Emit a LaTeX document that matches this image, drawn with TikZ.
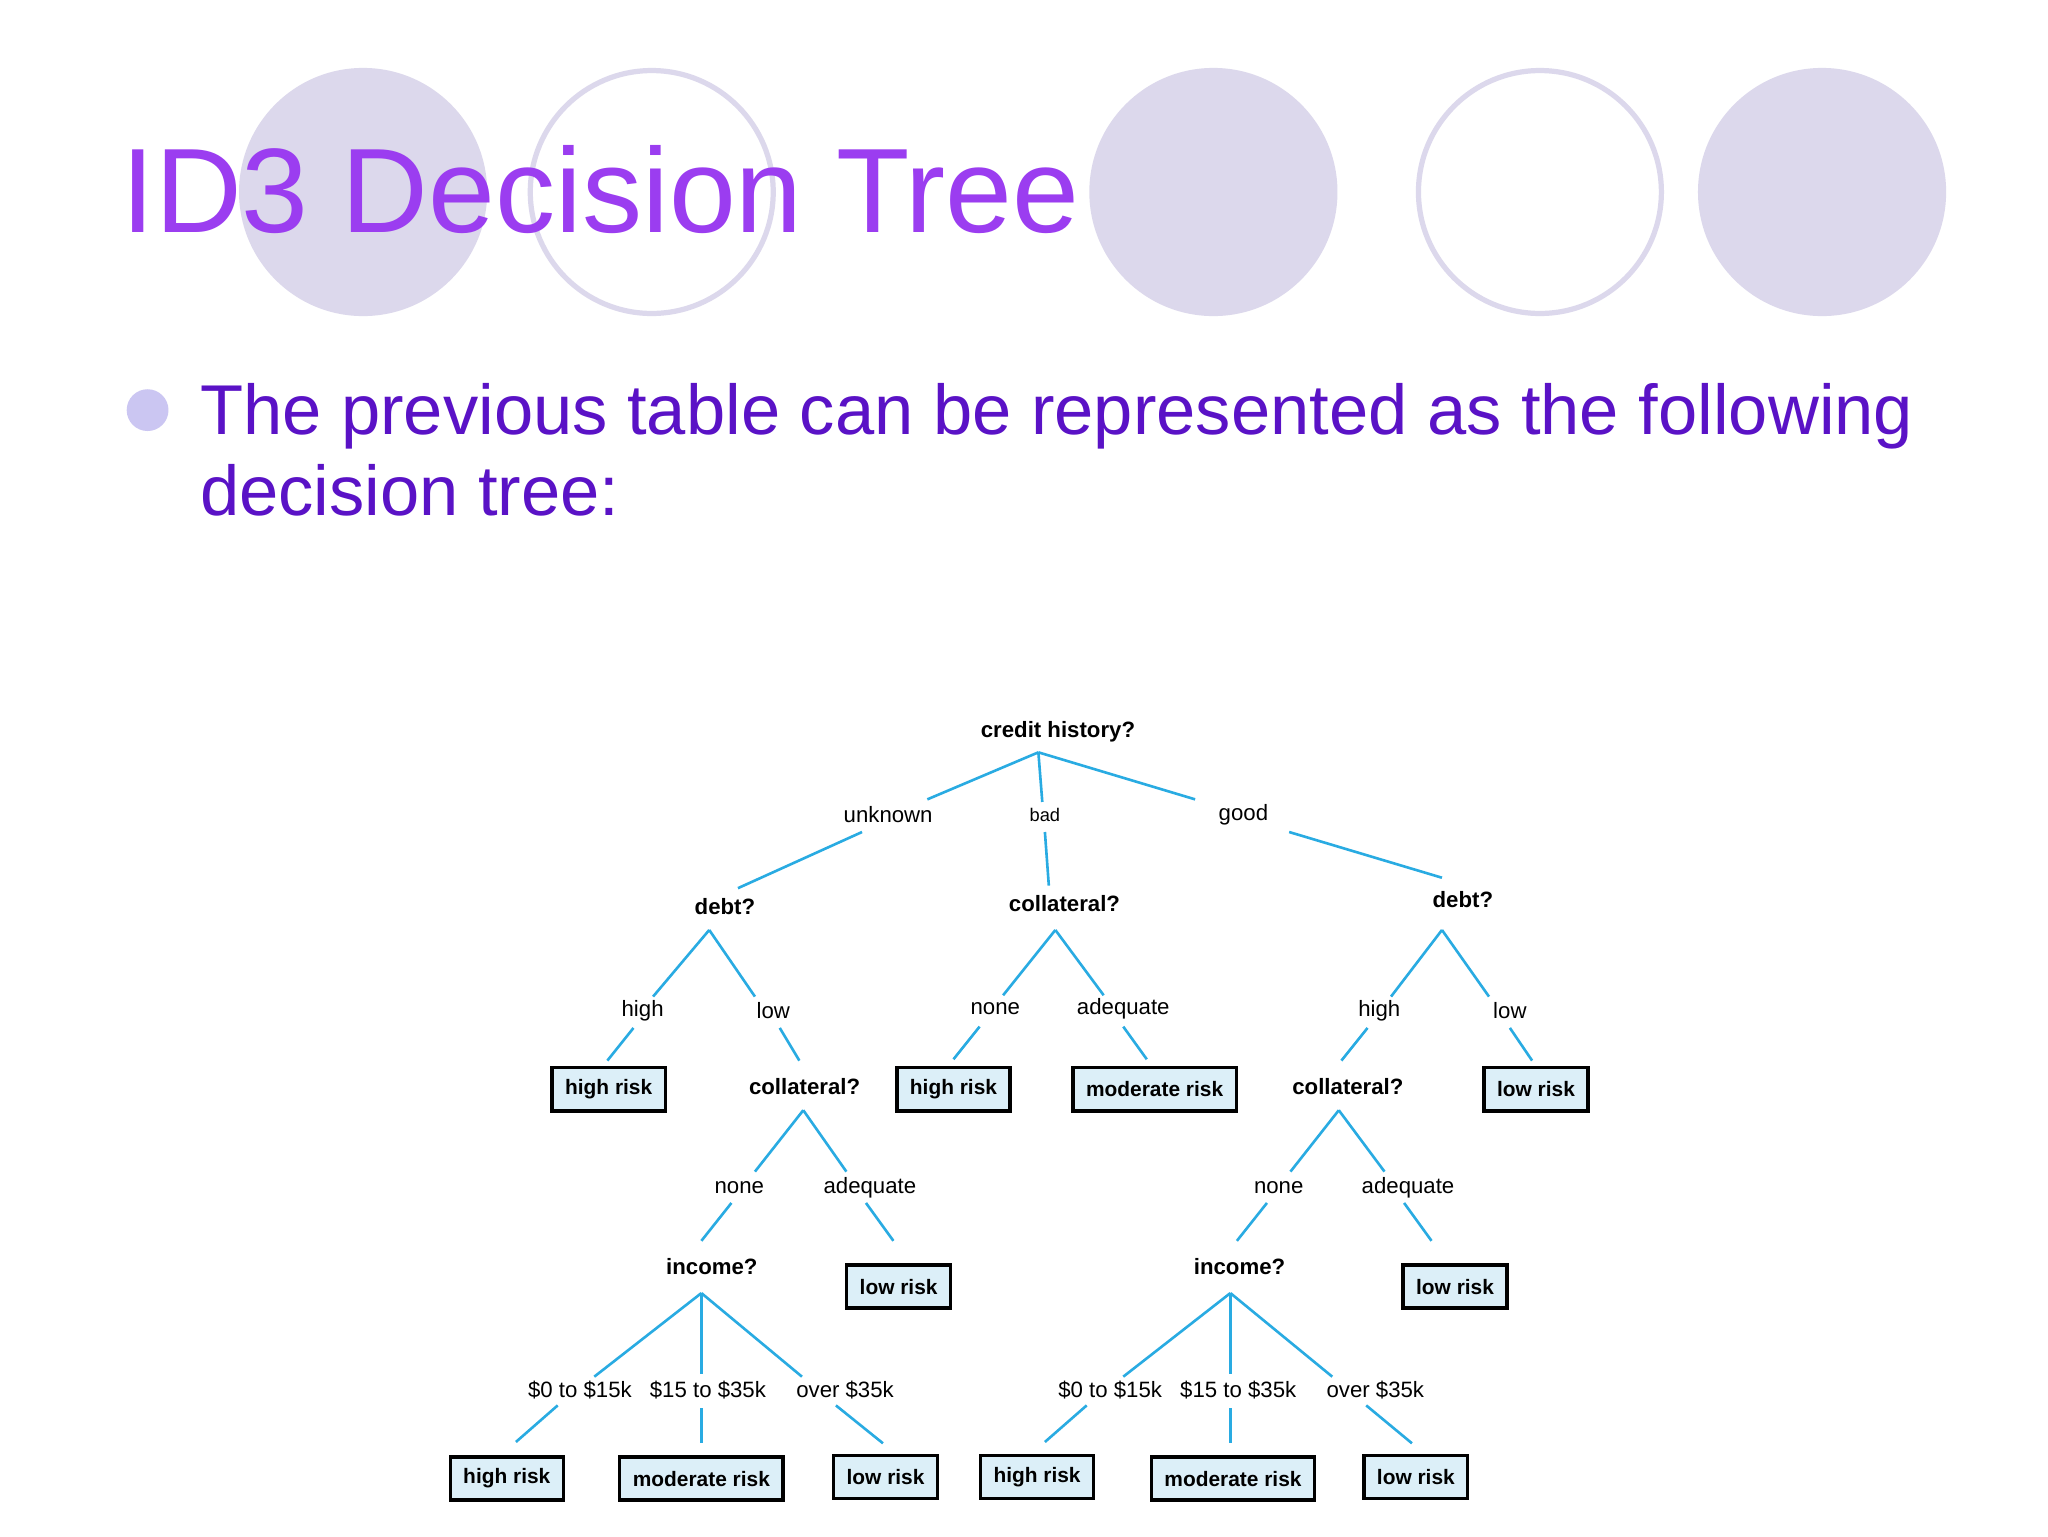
\documentclass[tikz,border=0pt]{standalone}
\usepackage{fontspec}
\setmainfont{Liberation Sans}
\definecolor{lav}{HTML}{DCD8EC}
\definecolor{ttl}{HTML}{9B3DF0}
\definecolor{txt}{HTML}{5A12C6}
\definecolor{bul}{HTML}{CBC6F2}
\definecolor{ln}{HTML}{29ABE2}
\definecolor{bx}{HTML}{DCEFF8}
\begin{document}
\begin{tikzpicture}[x=1pt,y=-1pt,
  q/.style={font=\fontsize{17}{17}\selectfont\bfseries,inner sep=1pt},
  lb/.style={font=\fontsize{17}{17}\selectfont,inner sep=1pt},
  leaf/.style={draw=black,line width=2.5pt,fill=bx,font=\fontsize{16}{16}\selectfont\bfseries,minimum height=33pt,inner xsep=10pt},
  e/.style={draw=ln,line width=2pt}]
\useasboundingbox (0,0) rectangle (1568,1176);
\fill[white] (0,0) rectangle (1568,1176);
\fill[lav] (278,147) circle (95);
\draw[lav,line width=4pt] (499,147) circle (93);
\fill[lav] (929,147) circle (95);
\draw[lav,line width=4pt] (1179,147) circle (93);
\fill[lav] (1395,147) circle (95);
\node[anchor=base west,text=ttl,font=\fontsize{92}{92}\selectfont,inner sep=0] (title) at (93,178) {ID3 Decision Tree};
\fill[bul] (113,314) circle (16);
\node[anchor=base west,text=txt,font=\fontsize{54}{54}\selectfont,inner sep=0] (l1) at (153,333) {The previous table can be represented as the following};
\node[anchor=base west,text=txt,font=\fontsize{54}{54}\selectfont,inner sep=0] (l2) at (153,395) {decision tree:};
% root
\node[q] (root) at (810,560) {credit history?};
\coordinate (r) at (795,576);
\node[lb] (unk) at (680,624) {unknown};
\node[lb,font=\fontsize{14}{14}\selectfont] (bad) at (800,624) {bad};
\node[lb] (good) at (952,624) {good};
\draw[e] (r) -- (710,612) (660,637) -- (565,680);
\draw[e] (r) -- (798,614) (800,637) -- (803,678);
\draw[e] (r) -- (915,612) (987,637) -- (1104,672);
% left debt
\node[q] (d1) at (555,694) {debt?};
\coordinate (d1j) at (543,712);
\node[lb] (h1) at (492,774) {high};
\node[lb] (lo1) at (592,774) {low};
\draw[e] (d1j) -- (500,763) (485,787) -- (465,812);
\draw[e] (d1j) -- (578,763) (597,787) -- (612,812);
\node[leaf] (hr1) at (466,834) {high risk};
\node[q] (c1) at (616,832) {collateral?};
\coordinate (c1j) at (615,850);
\node[lb] (n1) at (566,909) {none};
\node[lb] (a1) at (666,909) {adequate};
\draw[e] (c1j) -- (578,897) (560,921) -- (537,950);
\draw[e] (c1j) -- (648,897) (663,921) -- (684,950);
\node[leaf] (lr1) at (688,985) {low risk};
\node[q] (i1) at (545,970) {income?};
\coordinate (i1j) at (537,990);
\node[lb] (p1) at (444,1064) {\$0 to \$15k};
\node[lb] (p2) at (542,1064) {\$15 to \$35k};
\node[lb] (p3) at (647,1064) {over \$35k};
\draw[e] (i1j) -- (455,1054) (427,1076) -- (395,1104);
\draw[e] (i1j) -- (537,1052) (537,1078) -- (537,1105);
\draw[e] (i1j) -- (614,1054) (640,1076) -- (676,1105);
\node[leaf] (b1) at (388,1132) {high risk};
\node[leaf] (b2) at (537,1132) {moderate risk};
\node[leaf] (b3) at (678,1131) {low risk};
% middle collateral
\node[q] (c2) at (815,692) {collateral?};
\coordinate (c2j) at (808,712);
\node[lb] (n2) at (762,772) {none};
\node[lb] (a2) at (860,772) {adequate};
\draw[e] (c2j) -- (768,762) (750,786) -- (730,811);
\draw[e] (c2j) -- (845,762) (860,786) -- (878,811);
\node[leaf] (hr2) at (730,834) {high risk};
\node[leaf] (mr2) at (884,834) {moderate risk};
% right debt
\node[q] (d2) at (1120,689) {debt?};
\coordinate (d2j) at (1104,712);
\node[lb] (h2) at (1056,774) {high};
\node[lb] (lo2) at (1156,774) {low};
\draw[e] (d2j) -- (1065,763) (1047,787) -- (1027,812);
\draw[e] (d2j) -- (1140,763) (1156,787) -- (1173,812);
\node[leaf] (lr2) at (1176,834) {low risk};
\node[q] (c3) at (1032,832) {collateral?};
\coordinate (c3j) at (1025,850);
\node[lb] (n3) at (979,909) {none};
\node[lb] (a3) at (1078,909) {adequate};
\draw[e] (c3j) -- (988,897) (970,921) -- (947,950);
\draw[e] (c3j) -- (1060,897) (1075,921) -- (1096,950);
\node[leaf] (lr3) at (1114,985) {low risk};
\node[q] (i2) at (949,970) {income?};
\coordinate (i2j) at (942,990);
\node[lb] (p4) at (850,1064) {\$0 to \$15k};
\node[lb] (p5) at (948,1064) {\$15 to \$35k};
\node[lb] (p6) at (1053,1064) {over \$35k};
\draw[e] (i2j) -- (860,1054) (832,1076) -- (800,1104);
\draw[e] (i2j) -- (942,1052) (942,1078) -- (942,1105);
\draw[e] (i2j) -- (1020,1054) (1046,1076) -- (1081,1105);
\node[leaf] (b4) at (794,1131) {high risk};
\node[leaf] (b5) at (944,1132) {moderate risk};
\node[leaf] (b6) at (1084,1131) {low risk};
\end{tikzpicture}
\end{document}
